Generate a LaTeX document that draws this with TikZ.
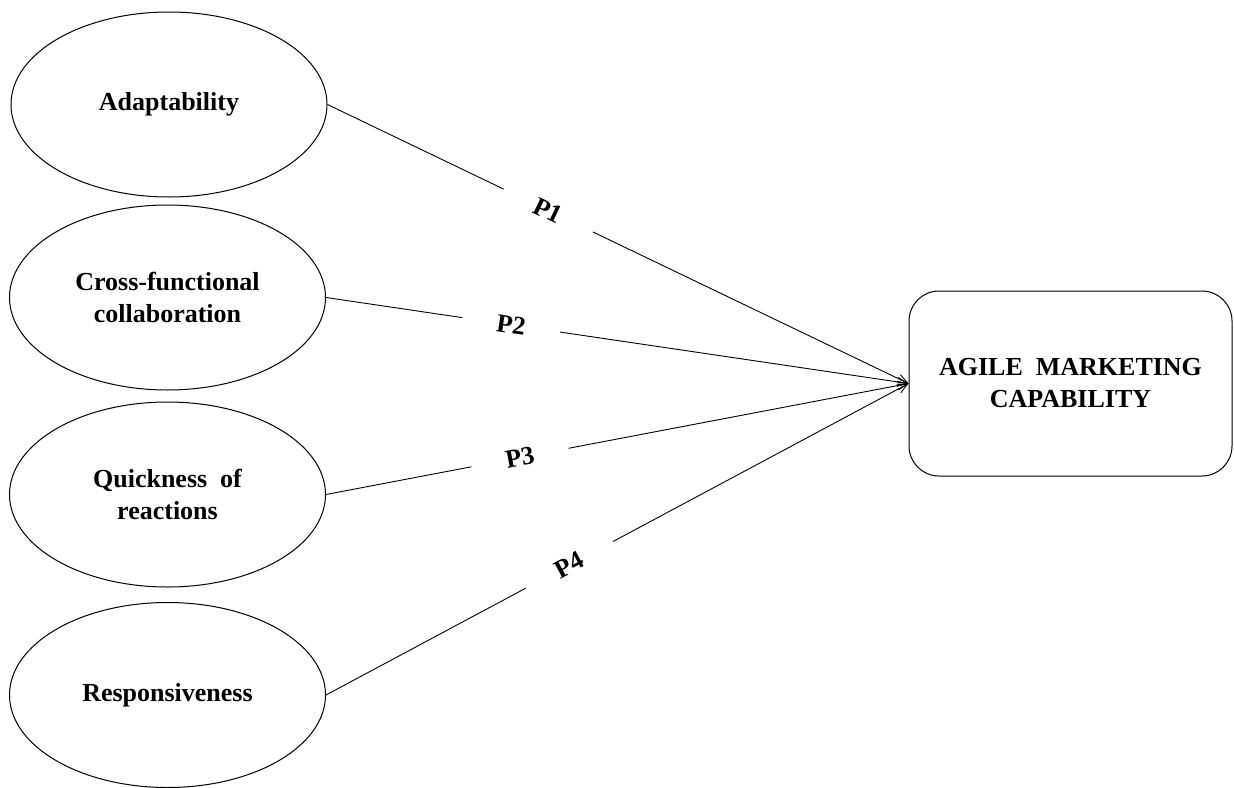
\documentclass[tikz,border=0pt]{standalone}
\usepackage{fontspec}
\setmainfont{Liberation Serif}
\usetikzlibrary{arrows.meta,shapes.geometric}
\begin{document}
\begin{tikzpicture}[x=1pt,y=-1pt,
  every node/.style={font=\fontsize{26}{32}\selectfont\bfseries},
  construct/.style={draw, line width=1pt, ellipse, inner sep=0pt,
    minimum width=316pt, minimum height=185pt, align=center},
  outcome/.style={draw, line width=1pt, rectangle, rounded corners=30pt,
    minimum width=323pt, minimum height=185pt, align=center},
  path/.style={line width=0.9pt, -{Straight Barb[length=10pt,width=9pt]}},
  plabel/.style={sloped, fill=white, inner xsep=35pt, inner ysep=4pt}]
\useasboundingbox (0,0) rectangle (1234,787);

\node[construct] (adapt) at (169,104.5) {Adaptability};
\node[construct] (cross) at (167.5,297.5) {Cross-functional\\collaboration};
\node[construct] (quick) at (167.5,494.5) {Quickness\ \ of\\reactions};
\node[construct] (resp)  at (167.5,695) {Responsiveness};

\node[outcome] (amc) at (1070.5,383.5) {AGILE\ \ MARKETING\\CAPABILITY};

\draw[path] (adapt.east) -- node[plabel, pos=0.38] {P1} (amc.west);
\draw[path] (cross.east) -- node[plabel, pos=0.318] {P2} (amc.west);
\draw[path] (quick.east) -- node[plabel, pos=0.333] {P3} (amc.west);
\draw[path] (resp.east)  -- node[plabel, pos=0.418] {P4} (amc.west);
\end{tikzpicture}
\end{document}
